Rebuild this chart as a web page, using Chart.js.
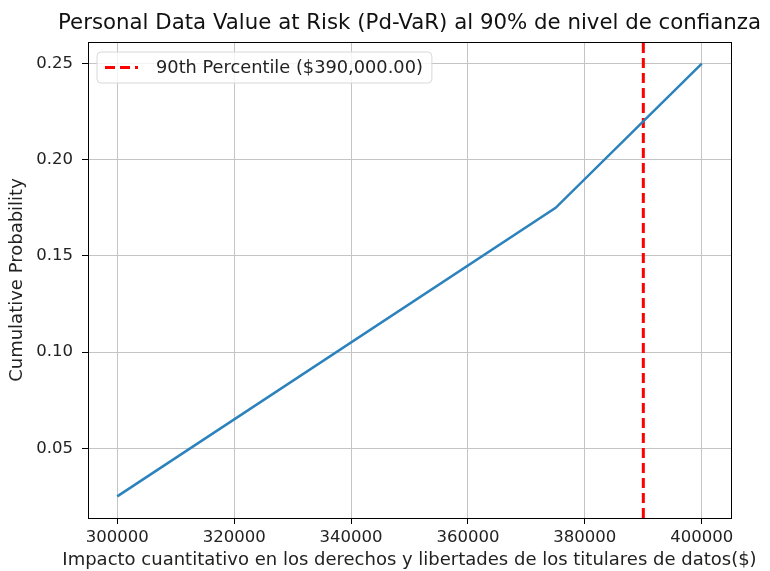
<!DOCTYPE html>
<html>
<head>
<meta charset="utf-8">
<script src="https://cdn.jsdelivr.net/npm/chart.js@4.4.1/dist/chart.umd.min.js"></script>
<style>
  html, body { margin: 0; padding: 0; background: #fff; }
  #wrap { width: 770px; height: 571px; position: relative; }
</style>
</head>
<body>
<div id="wrap"><canvas id="c" width="770" height="571"></canvas></div>
<script>
// ---- data ----
const impactValues = [300000, 375000, 400000];
const cumulativeProb = [0.025, 0.175, 0.25];
const percentileValue = 390000;
const percentileLabel = "90th Percentile ($390,000.00)";
const xTickValues = [300000, 320000, 340000, 360000, 380000, 400000];
const yTickValues = [0.05, 0.10, 0.15, 0.20, 0.25];
const titleText = "Personal Data Value at Risk (Pd-VaR) al 90% de nivel de confianza";
const xLabel = "Impacto cuantitativo en los derechos y libertades de los titulares de datos($)";
const yLabel = "Cumulative Probability";
const xMin = 295000, xMax = 405000;
const yMin = 0.01375, yMax = 0.26125;

const FONT = "'DejaVu Sans', sans-serif";

const framePlugin = {
  id: 'frame',
  afterDraw(chart) {
    const a = chart.chartArea, ctx = chart.ctx;
    ctx.save();
    ctx.strokeStyle = '#000';
    ctx.lineWidth = 1;
    ctx.strokeRect(Math.round(a.left) + 0.5, Math.round(a.top) + 0.5,
                   Math.round(a.right - a.left), Math.round(a.bottom - a.top));
    ctx.restore();
  }
};

const textPlugin = {
  id: 'mtexts',
  afterDraw(chart) {
    const a = chart.chartArea, ctx = chart.ctx;
    const cx = (a.left + a.right) / 2;
    ctx.save();
    ctx.textAlign = 'center';
    ctx.textBaseline = 'middle';
    ctx.font = "21.3px " + FONT;
    ctx.fillStyle = '#111';
    ctx.fillText(titleText, cx, 23);
    ctx.font = "18px " + FONT;
    ctx.fillStyle = '#222';
    ctx.fillText(xLabel, cx, 560);
    ctx.restore();
  }
};

const legendPlugin = {
  id: 'mlegend',
  afterDraw(chart) {
    const a = chart.chartArea, ctx = chart.ctx;
    const x = a.left + 9, y = a.top + 10, h = 31;
    ctx.save();
    ctx.font = "17.8px " + FONT;
    const tw = ctx.measureText(percentileLabel).width;
    const w = 59 + tw + 9;
    const r = 4;
    ctx.beginPath();
    ctx.moveTo(x + r, y);
    ctx.lineTo(x + w - r, y); ctx.quadraticCurveTo(x + w, y, x + w, y + r);
    ctx.lineTo(x + w, y + h - r); ctx.quadraticCurveTo(x + w, y + h, x + w - r, y + h);
    ctx.lineTo(x + r, y + h); ctx.quadraticCurveTo(x, y + h, x, y + h - r);
    ctx.lineTo(x, y + r); ctx.quadraticCurveTo(x, y, x + r, y);
    ctx.closePath();
    ctx.fillStyle = 'rgba(255,255,255,0.8)';
    ctx.fill();
    ctx.strokeStyle = '#d8d8d8';
    ctx.lineWidth = 1;
    ctx.stroke();
    ctx.beginPath();
    ctx.setLineDash([10, 5]);
    ctx.strokeStyle = '#ff0000';
    ctx.lineWidth = 3;
    ctx.moveTo(x + 8, y + h / 2);
    ctx.lineTo(x + 41, y + h / 2);
    ctx.stroke();
    ctx.setLineDash([]);
    ctx.fillStyle = '#222';
    ctx.textBaseline = 'middle';
    ctx.textAlign = 'left';
    ctx.fillText(percentileLabel, x + 59, y + h / 2 + 1);
    ctx.restore();
  }
};

new Chart(document.getElementById('c'), {
  type: 'line',
  data: {
    datasets: [
      {
        label: 'CDF',
        data: impactValues.map((v, i) => ({ x: v, y: cumulativeProb[i] })),
        borderColor: '#2c82bc',
        borderWidth: 2.5,
        pointRadius: 0,
        tension: 0,
        fill: false
      },
      {
        label: percentileLabel,
        data: [{ x: percentileValue, y: yMin }, { x: percentileValue, y: yMax }],
        borderColor: '#ff0000',
        borderWidth: 3,
        borderDash: [10, 5],
        pointRadius: 0,
        fill: false
      }
    ]
  },
  options: {
    responsive: false,
    animation: false,
    layout: { padding: { top: 42, right: 39, left: 0, bottom: 0 } },
    plugins: {
      legend: { display: false },
      title: { display: false },
      tooltip: { enabled: false }
    },
    scales: {
      x: {
        type: 'linear',
        min: xMin, max: xMax,
        afterBuildTicks(scale) { scale.ticks = xTickValues.map(v => ({ value: v })); },
        afterFit(scale) { scale.height = 53; },
        ticks: {
          autoSkip: false, maxRotation: 0,
          color: '#222',
          font: { family: FONT, size: 16.5 },
          padding: 4,
          callback: v => String(v)
        },
        grid: { color: '#c4c4c4', lineWidth: 1, tickColor: '#000', tickLength: 6 },
        border: { display: true, color: '#000' },
        title: { display: false }
      },
      y: {
        type: 'linear',
        min: yMin, max: yMax,
        afterBuildTicks(scale) { scale.ticks = yTickValues.map(v => ({ value: v })); },
        afterFit(scale) { scale.width = 88; },
        ticks: {
          color: '#222',
          font: { family: FONT, size: 16.5 },
          padding: 9,
          callback: v => Number(v).toFixed(2)
        },
        grid: { color: '#c4c4c4', lineWidth: 1, tickColor: '#000', tickLength: 6 },
        border: { display: true, color: '#000' },
        title: {
          display: true, text: yLabel, color: '#222',
          font: { family: FONT, size: 18 },
          padding: { top: 7, bottom: 0 }
        }
      }
    }
  },
  plugins: [framePlugin, textPlugin, legendPlugin]
});
</script>
</body>
</html>
